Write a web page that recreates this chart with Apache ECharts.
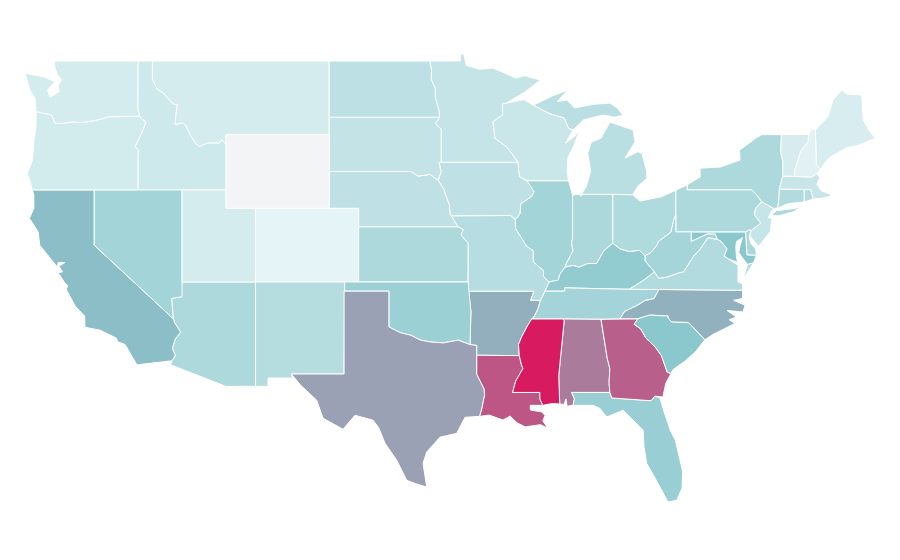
<!DOCTYPE html>
<html>
<head>
<meta charset="utf-8">
<style>html,body{margin:0;background:#fff}#chart{width:900px;height:560px}</style>
<script src="https://cdn.jsdelivr.net/npm/echarts@6/dist/echarts.min.js"></script>
</head>
<body>
<div id="chart"></div>
<script>
const stateNames = ['Alabama','Arizona','Arkansas','California','Colorado','Connecticut','Delaware','Florida','Georgia','Idaho','Illinois','Indiana','Iowa','Kansas','Kentucky','Louisiana','Maine','Maryland','Massachusetts','Michigan','Minnesota','Mississippi','Missouri','Montana','Nebraska','Nevada','New Hampshire','New Jersey','New Mexico','New York','North Carolina','North Dakota','Ohio','Oklahoma','Oregon','Pennsylvania','Rhode Island','South Carolina','South Dakota','Tennessee','Texas','Utah','Vermont','Virginia','Washington','West Virginia','Wisconsin','Wyoming']
// Wyoming has no value in the reference, it stays the plain grey
const stateValues = [72,30.7,57,52.5,1.6,28,32,41,80,13.5,36.4,31.2,21.3,30.7,44.7,83,8.3,49,16.6,23.9,18.2,100,26,9.9,21.3,36.4,3.1,17.7,26.5,30.7,56.5,22.9,29.6,40,11.4,30.7,27,49,19.2,35.4,61,9.9,9.4,28,9.9,34.8,16,null]

// state outlines in lon/lat, fed to echarts.registerMap
const outlines = {
  Washington: [[[-122.73,49],[-117.03,49],[-117.04,46.42],[-116.92,46],[-119.05,45.97],[-119.6,45.83],[-120.3,45.72],[-120.97,45.65],[-121.5,45.7],[-122.1,45.61],[-122.66,45.61],[-122.89,46.07],[-123.57,46.19],[-123.95,46.25],[-124.02,46.97],[-124.36,47.42],[-124.7,48.33],[-123.46,48.15],[-122.66,47.88],[-123.16,47.42],[-123,47.03],[-122.37,47.33],[-122.44,47.7],[-122.2,48],[-122.5,48.24],[-122.66,48.62]]],
  Oregon: [[[-123.95,46.25],[-123.57,46.19],[-122.89,46.07],[-122.66,45.61],[-122.1,45.61],[-121.5,45.7],[-120.97,45.65],[-120.3,45.72],[-119.6,45.83],[-119.05,45.97],[-116.92,46],[-116.78,45.85],[-116.5,45.7],[-116.67,45.3],[-116.9,44.89],[-117.23,44.34],[-117,44.16],[-117.03,43.8],[-117.03,42],[-124.21,42],[-124.4,42.6],[-124.55,42.85],[-124.2,43.6],[-124.1,44.6],[-123.95,45.5]]],
  California: [[[-124.21,42],[-120,42],[-120,39],[-114.63,35],[-114.55,34.8],[-114.14,34.27],[-114.5,33.9],[-114.7,33.4],[-114.5,33],[-114.72,32.72],[-117.1,32.5],[-117.4,32.9],[-117.9,33.6],[-118.4,33.75],[-118.5,33.95],[-119.6,34.38],[-120.63,34.54],[-120.65,35.15],[-121.3,35.7],[-121.9,36.6],[-121.8,36.8],[-122,36.95],[-122.45,37.5],[-122.15,37.55],[-122.4,37.85],[-122,38.05],[-122.45,38.05],[-122.5,37.8],[-123,38.3],[-123.7,39],[-123.8,39.7],[-124.1,40.1],[-124.4,40.45],[-124.1,41],[-124.1,41.75]]],
  Nevada: [[[-120,42],[-114.04,42],[-114.04,36.2],[-114.1,36.2],[-114.75,36.1],[-114.63,35],[-120,39]]],
  Idaho: [[[-117.03,49],[-116.05,49],[-116.05,48],[-115.7,47.45],[-115.3,47.25],[-114.95,46.93],[-114.6,46.65],[-114.35,46.65],[-114.47,46],[-114.5,45.55],[-114,45.65],[-113.8,45.5],[-113.45,44.95],[-113.1,44.5],[-112.85,44.37],[-112.3,44.55],[-111.5,44.55],[-111.35,44.72],[-111.05,44.48],[-111.05,42],[-117.03,42],[-117.03,43.8],[-117,44.16],[-117.23,44.34],[-116.9,44.89],[-116.67,45.3],[-116.5,45.7],[-116.78,45.85],[-116.92,46],[-117.04,46.42]]],
  Montana: [[[-116.05,49],[-104.05,49],[-104.05,45],[-111.05,45],[-111.05,44.48],[-111.35,44.72],[-111.5,44.55],[-112.3,44.55],[-112.85,44.37],[-113.1,44.5],[-113.45,44.95],[-113.8,45.5],[-114,45.65],[-114.5,45.55],[-114.47,46],[-114.35,46.65],[-114.6,46.65],[-114.95,46.93],[-115.3,47.25],[-115.7,47.45],[-116.05,48]]],
  Wyoming: [[[-111.05,45],[-104.05,45],[-104.05,41],[-111.05,41]]],
  Utah: [[[-114.04,42],[-111.05,42],[-111.05,41],[-109.05,41],[-109.05,37],[-114.04,37]]],
  Colorado: [[[-109.05,41],[-102.05,41],[-102.05,37],[-109.05,37]]],
  Arizona: [[[-114.04,37],[-109.05,37],[-109.05,31.33],[-111.07,31.33],[-114.81,32.5],[-114.72,32.72],[-114.5,33],[-114.7,33.4],[-114.5,33.9],[-114.14,34.27],[-114.55,34.8],[-114.63,35],[-114.75,36.1],[-114.1,36.2],[-114.04,36.2]]],
  'New Mexico': [[[-109.05,37],[-103,37],[-103.04,32],[-106.62,32],[-106.53,31.78],[-108.2,31.78],[-108.2,31.33],[-109.05,31.33]]],
  'North Dakota': [[[-104.05,49],[-97.23,49],[-97.1,48.5],[-97.13,48],[-96.85,47.5],[-96.85,47],[-96.6,46.3],[-96.56,45.94],[-104.05,45.94]]],
  'South Dakota': [[[-104.05,45.94],[-96.56,45.94],[-96.85,45.6],[-96.45,45.3],[-96.45,43.5],[-96.6,43.5],[-96.45,43],[-96.66,42.53],[-97.2,42.84],[-98,42.75],[-98.5,43],[-104.05,43]]],
  Nebraska: [[[-104.05,43],[-98.5,43],[-98,42.75],[-97.2,42.84],[-96.66,42.53],[-96.25,42],[-96.1,41.6],[-95.9,41.2],[-95.85,40.7],[-95.31,40],[-102.05,40],[-102.05,41],[-104.05,41]]],
  Kansas: [[[-102.05,40],[-95.31,40],[-94.95,39.85],[-95.1,39.55],[-94.61,39.1],[-94.62,37],[-102.05,37]]],
  Oklahoma: [[[-103,37],[-94.62,37],[-94.43,35.4],[-94.49,33.6],[-95.3,33.84],[-96.32,33.69],[-97.2,33.74],[-97.88,33.85],[-98.5,34.1],[-99.24,34.25],[-100,34.56],[-100,36.5],[-103,36.5]]],
  Texas: [[[-103.04,36.5],[-100,36.5],[-100,34.56],[-99.24,34.25],[-98.5,34.1],[-97.88,33.85],[-97.2,33.74],[-96.32,33.69],[-95.3,33.84],[-94.49,33.6],[-94.04,33.55],[-94.04,31.99],[-93.55,31.2],[-93.5,30.9],[-93.7,30.1],[-93.85,29.7],[-94.83,29.65],[-95.39,28.78],[-96.53,28.57],[-97.43,27.77],[-97.68,27.15],[-97.43,25.86],[-98.2,26.05],[-98.79,26.23],[-99.47,27.32],[-100.26,28.24],[-100.7,29.1],[-101.07,29.49],[-102.3,29.76],[-103.11,29],[-104.47,29.6],[-104.9,30.58],[-106,31.4],[-106.62,32],[-103.04,32]]],
  Minnesota: [[[-97.23,49],[-95.15,49],[-95.15,49.38],[-94.9,49.38],[-94.75,48.75],[-93.8,48.55],[-92.95,48.62],[-92,48.3],[-91.4,48.07],[-90.8,48.2],[-89.7,47.97],[-90.8,47.3],[-92.05,46.7],[-92.29,46.66],[-92.27,46.07],[-92.93,45.7],[-92.8,44.8],[-92,44.34],[-91.22,43.5],[-96.45,43.5],[-96.45,45.3],[-96.85,45.6],[-96.56,45.94],[-96.6,46.3],[-96.85,47],[-96.85,47.5],[-97.13,48],[-97.1,48.5]]],
  Iowa: [[[-96.6,43.5],[-91.22,43.5],[-91.2,43.1],[-91.1,42.7],[-90.64,42.5],[-90.15,41.9],[-90.3,41.65],[-91.05,41.25],[-91.1,40.7],[-91.42,40.38],[-91.73,40.61],[-95.77,40.58],[-95.85,40.7],[-95.9,41.2],[-96.1,41.6],[-96.25,42],[-96.66,42.53],[-96.45,43]]],
  Missouri: [[[-95.77,40.58],[-91.73,40.61],[-91.42,40.38],[-91.4,39.9],[-90.7,39],[-90.6,38.9],[-90.2,38.7],[-90.2,38.1],[-89.5,37.6],[-89.5,37.3],[-89.13,37],[-89.4,36.5],[-89.7,36],[-90.37,36],[-90.15,36.5],[-94.62,36.5],[-94.62,37],[-94.61,39.1],[-95.1,39.55],[-94.95,39.85],[-95.31,40],[-95.85,40.7]]],
  Arkansas: [[[-94.62,36.5],[-90.15,36.5],[-90.37,36],[-89.7,36],[-89.9,35.5],[-90.15,35.1],[-90.3,35],[-90.6,34.6],[-91,34],[-91.2,33.6],[-91.15,33],[-94.04,33.02],[-94.04,33.55],[-94.49,33.6],[-94.43,35.4]]],
  Louisiana: [[[-94.04,33.02],[-91.15,33],[-91,32.5],[-90.9,32.3],[-91.4,31.6],[-91.6,31],[-89.75,31],[-89.75,30.65],[-89.55,30.3],[-90.4,30.3],[-90.4,30.05],[-89.62,29.94],[-89.4,29.75],[-89.55,29.45],[-89.2,29.05],[-89.7,29.25],[-90.75,29.13],[-91.3,29.35],[-91.77,29.72],[-92.25,29.5],[-93.2,29.77],[-93.85,29.7],[-93.7,30.1],[-93.5,30.9],[-93.55,31.2],[-94.04,31.99]]],
  Wisconsin: [[[-92.29,46.66],[-91.2,46.85],[-90.8,46.9],[-90.2,46.6],[-89.1,46.14],[-88.1,45.9],[-87.8,45.35],[-87.5,45.25],[-88,44.54],[-87.4,44.9],[-87.05,45.25],[-87.5,44.3],[-87.84,43.78],[-87.9,43],[-87.8,42.5],[-90.64,42.5],[-91.1,42.7],[-91.2,43.1],[-91.22,43.5],[-92,44.34],[-92.8,44.8],[-92.93,45.7],[-92.27,46.07]]],
  Illinois: [[[-90.64,42.5],[-87.8,42.5],[-87.53,41.72],[-87.53,39.35],[-87.6,39.1],[-87.5,38.7],[-87.95,38],[-88.05,37.8],[-88.4,37.4],[-88.5,37.1],[-89.13,37],[-89.5,37.3],[-89.5,37.6],[-90.2,38.1],[-90.2,38.7],[-90.6,38.9],[-90.7,39],[-91.4,39.9],[-91.42,40.38],[-91.1,40.7],[-91.05,41.25],[-90.3,41.65],[-90.15,41.9]]],
  Indiana: [[[-87.53,41.72],[-87.2,41.75],[-86.8,41.76],[-84.8,41.76],[-84.8,39.1],[-85.4,38.7],[-85.9,38],[-86.5,38],[-87.1,37.8],[-87.5,37.9],[-88.05,37.8],[-87.95,38],[-87.5,38.7],[-87.6,39.1],[-87.53,39.35]]],
  Ohio: [[[-84.8,41.76],[-83.45,41.73],[-82.95,41.39],[-81.5,41.63],[-80.52,41.98],[-80.52,40.64],[-80.65,40.4],[-80.85,39.7],[-81.7,39.2],[-81.8,39],[-82.2,38.6],[-82.6,38.42],[-83,38.72],[-83.7,38.65],[-84.3,38.8],[-84.8,39.1]]],
  Kentucky: [[[-89.4,36.5],[-89.13,37],[-88.5,37.1],[-88.4,37.4],[-88.05,37.8],[-87.5,37.9],[-87.1,37.8],[-86.5,38],[-85.9,38],[-85.4,38.7],[-84.8,39.1],[-84.3,38.8],[-83.7,38.65],[-83,38.72],[-82.6,38.42],[-82.6,38.15],[-81.97,37.54],[-82.7,37.1],[-83.68,36.6],[-88.07,36.68],[-88.07,36.5]]],
  Tennessee: [[[-90.3,35],[-90.15,35.1],[-89.9,35.5],[-89.7,36],[-89.4,36.5],[-88.07,36.5],[-88.07,36.68],[-83.68,36.6],[-81.68,36.59],[-82,36.1],[-82.6,36],[-83.1,35.75],[-84,35.4],[-84.32,35],[-85.6,34.98],[-88.2,35]]],
  Mississippi: [[[-91.15,33],[-91.2,33.6],[-91,34],[-90.6,34.6],[-90.3,35],[-88.2,35],[-88.1,34.9],[-88.47,31.9],[-88.4,30.37],[-88.9,30.4],[-89.55,30.3],[-89.75,30.65],[-89.75,31],[-91.6,31],[-91.4,31.6],[-90.9,32.3],[-91,32.5]]],
  Alabama: [[[-88.2,35],[-85.6,34.98],[-85.18,32.87],[-85,32.3],[-85.05,31.55],[-85,31],[-87.6,31],[-87.4,30.65],[-87.5,30.3],[-87.9,30.25],[-87.98,30.65],[-88.1,30.35],[-88.4,30.37],[-88.47,31.9],[-88.1,34.9]]],
  Georgia: [[[-85.6,34.98],[-83.1,35],[-83.35,34.7],[-82.9,34.45],[-82.55,33.95],[-81.95,33.5],[-81.5,33],[-81.1,32.1],[-80.85,32.03],[-81.2,31.5],[-81.4,30.75],[-81.95,30.8],[-82.2,30.55],[-84.86,30.7],[-85,31],[-85.05,31.55],[-85,32.3],[-85.18,32.87]]],
  Florida: [[[-87.6,31],[-85,31],[-84.86,30.7],[-82.2,30.55],[-81.95,30.8],[-81.6,30.7],[-81.3,29.9],[-80.9,28.95],[-80.55,28.4],[-80.05,26.68],[-80.1,25.8],[-80.46,25.14],[-81.05,25.05],[-81.6,25.86],[-82.1,26.6],[-82.5,27.15],[-82.68,28.04],[-82.74,28.95],[-83.3,29.4],[-84.1,30.03],[-85.2,29.67],[-85.7,30.15],[-86.14,30.3],[-87.5,30.3],[-87.4,30.65]]],
  'South Carolina': [[[-83.1,35],[-82.3,35.2],[-81.05,35.15],[-81.05,35.05],[-80.8,34.82],[-79.67,34.8],[-78.55,33.86],[-79.2,33.2],[-79.9,32.7],[-80.7,32.25],[-80.85,32.03],[-81.1,32.1],[-81.5,33],[-81.95,33.5],[-82.55,33.95],[-82.9,34.45],[-83.35,34.7]]],
  'North Carolina': [[[-84.32,35],[-83.1,35],[-82.3,35.2],[-81.05,35.15],[-81.05,35.05],[-80.8,34.82],[-79.67,34.8],[-78.55,33.86],[-78,34.15],[-76.5,34.75],[-76.9,34.95],[-76.4,35.1],[-77.05,35.45],[-75.96,35.37],[-75.82,35.74],[-76.6,36],[-76,36.1],[-75.98,36.55],[-81.68,36.59],[-82,36.1],[-82.6,36],[-83.1,35.75],[-84,35.4]]],
  Virginia: [[[-83.68,36.6],[-82.7,37.1],[-81.97,37.54],[-81.68,37.2],[-81.2,37.25],[-80.3,37.5],[-80,37.55],[-79.3,38.42],[-78.9,38.75],[-78.35,39.4],[-77.72,39.32],[-77.45,39.2],[-77.05,38.8],[-77.25,38.4],[-76.95,38.25],[-76.3,37.9],[-76.3,37],[-76,36.9],[-75.98,36.55],[-81.68,36.59]],[[-75.95,37.15],[-75.65,37.95],[-75.25,38.03],[-75.6,37.6]]],
  'West Virginia': [[[-80.52,40.64],[-80.52,39.72],[-79.48,39.72],[-79.48,39.2],[-78.4,39.6],[-77.85,39.6],[-77.72,39.32],[-78.35,39.4],[-78.9,38.75],[-79.3,38.42],[-80,37.55],[-80.3,37.5],[-81.2,37.25],[-81.68,37.2],[-81.97,37.54],[-82.6,38.15],[-82.6,38.42],[-82.2,38.6],[-81.8,39],[-81.7,39.2],[-80.85,39.7],[-80.65,40.4]]],
  Maryland: [[[-79.48,39.72],[-75.79,39.72],[-75.69,38.46],[-75.05,38.45],[-75.25,38.03],[-75.65,37.95],[-75.9,38.2],[-76.25,38.6],[-76.15,39],[-76,39.4],[-76.4,39.2],[-76.45,38.9],[-76.4,38.3],[-76.3,38.05],[-76.95,38.25],[-77.25,38.4],[-77.05,38.8],[-77.45,39.2],[-77.72,39.32],[-77.85,39.6],[-78.4,39.6],[-79.48,39.2]]],
  Delaware: [[[-75.79,39.72],[-75.5,39.83],[-75.4,39.8],[-75.55,39.45],[-75.4,39.05],[-75.1,38.8],[-75.05,38.45],[-75.69,38.46]]],
  Pennsylvania: [[[-80.52,41.98],[-79.76,42.27],[-79.76,42],[-75.35,42],[-75.05,41.75],[-74.7,41.36],[-75.1,41],[-75.2,40.65],[-74.75,40.2],[-75.4,39.8],[-75.5,39.83],[-75.79,39.72],[-80.52,39.72],[-80.52,40.64]]],
  'New Jersey': [[[-74.7,41.36],[-73.9,41],[-74.25,40.5],[-74,40.45],[-74.1,39.75],[-74.9,38.93],[-75.5,39.5],[-75.4,39.8],[-74.75,40.2],[-75.2,40.65],[-75.1,41]]],
  'New York': [[[-79.76,42.27],[-78.87,42.7],[-78.87,43.18],[-77.5,43.24],[-76.16,43.62],[-76.2,44.16],[-75.1,44.8],[-74.7,45],[-73.35,45],[-73.4,44],[-73.25,43.55],[-73.27,42.75],[-73.5,42.05],[-73.55,41.3],[-73.65,41],[-73.9,41],[-74.7,41.36],[-75.05,41.75],[-75.35,42],[-79.76,42]],[[-74.05,40.6],[-73.7,40.87],[-72.6,40.98],[-72.1,41.05],[-72.5,40.82],[-73.5,40.6]]],
  Connecticut: [[[-73.5,42.05],[-71.8,42.02],[-71.8,41.35],[-72.9,41.25],[-73.65,41],[-73.55,41.3]]],
  'Rhode Island': [[[-71.8,42.02],[-71.38,42.02],[-71.2,41.5],[-71.8,41.35]]],
  Massachusetts: [[[-73.27,42.75],[-71.3,42.7],[-70.95,42.88],[-70.75,42.65],[-70.95,42.3],[-70.65,41.95],[-70.05,41.78],[-70,41.65],[-70.6,41.55],[-71.2,41.5],[-71.38,42.02],[-71.8,42.02],[-73.5,42.05]]],
  Vermont: [[[-73.35,45],[-71.5,45.01],[-71.55,44.6],[-72.05,44.1],[-72.45,43.1],[-72.46,42.73],[-73.27,42.75],[-73.25,43.55],[-73.4,44]]],
  'New Hampshire': [[[-71.5,45.01],[-71.3,45.3],[-71.05,45.25],[-70.98,43.4],[-70.7,43.1],[-70.95,42.88],[-71.3,42.7],[-72.46,42.73],[-72.45,43.1],[-72.05,44.1],[-71.55,44.6]]],
  Maine: [[[-71.05,45.25],[-70.4,45.8],[-70.2,45.97],[-69.85,46.88],[-69.26,47.42],[-68.9,47.2],[-67.9,47.15],[-67.8,45.8],[-67.45,45.3],[-67,44.8],[-68.2,44.4],[-68.9,44.3],[-70,43.8],[-70.3,43.6],[-70.7,43.1],[-70.98,43.4]]],
  Michigan: [[[-87,41.65],[-86.8,41.76],[-84.8,41.76],[-83.45,41.73],[-83.1,42.2],[-82.5,42.6],[-82.49,43],[-82.83,44],[-83.1,44.07],[-83.97,43.73],[-83.29,44.6],[-83.42,45.25],[-84.98,45.68],[-85.3,45.25],[-85.6,44.8],[-86.25,44.6],[-86.5,44],[-86.3,43],[-86.6,42.2]],[[-90.2,46.6],[-89.1,46.14],[-88.1,45.9],[-87.8,45.35],[-87.5,45.25],[-86.8,45.8],[-85.45,46.07],[-84.7,45.95],[-84.1,46.06],[-84.5,46.45],[-85,46.72],[-86.1,46.65],[-87.4,46.45],[-87.9,46.88],[-88.55,46.8],[-87.9,47.4],[-88.9,47.1]]]
}

const closeRing = ring => [...ring, ring[0]]
const usaGeo = {
  type: 'FeatureCollection',
  features: stateNames.map(name => ({
    type: 'Feature',
    properties: { name },
    geometry: { type: 'MultiPolygon', coordinates: outlines[name].map(ring => [closeRing(ring)]) }
  }))
}
echarts.registerMap('USA', usaGeo)

const chart = echarts.init(document.getElementById('chart'))
chart.setOption({
  animation: false,
  backgroundColor: '#fff',
  visualMap: {
    show: false,
    min: 0,
    max: 100,
    inRange: { color: ['#e8f5f7', '#88c7cc', '#d81b60'] }
  },
  series: [{
    type: 'map',
    map: 'USA',
    aspectScale: 0.8,
    left: 25,
    top: 54,
    width: 850,
    height: 448,
    roam: false,
    selectedMode: false,
    label: { show: false },
    emphasis: { disabled: true },
    itemStyle: { areaColor: '#f3f4f6', borderColor: '#fff', borderWidth: 1 },
    data: stateNames.map((name, i) => ({ name, value: stateValues[i] }))
  }]
})
</script>
</body>
</html>
